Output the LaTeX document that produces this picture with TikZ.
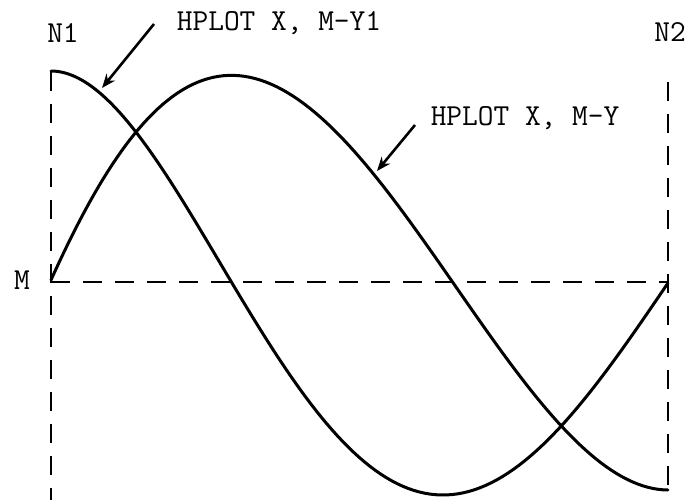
\documentclass[tikz,border=0pt]{standalone}
\usepackage{fontspec}
\usetikzlibrary{arrows.meta}
\begin{document}
\begin{tikzpicture}[x=1pt,y=-1pt,
  curve/.style={line width=3pt, line cap=round, line join=round},
  guide/.style={line width=2.6pt, dash pattern=on 19pt off 13pt},
  pointer/.style={line width=2.6pt, -{Stealth[length=14pt,width=11pt]}},
  lbl/.style={font=\ttfamily\addfontfeature{FakeBold=1.2}\fontsize{30.5}{32}\selectfont, inner sep=0pt}]
\useasboundingbox (0,0) rectangle (689,501);
% labels
\node[lbl] (n1) at (63,33) {N1};
\node[lbl] (n2) at (670,32) {N2};
\node[lbl] (m) at (22,280) {M};
\node[lbl] (ly1) at (279,23) {HPLOT X, M-Y1};
\node[lbl] (ly) at (525,118) {HPLOT X, M-Y};
% guide coordinates
\coordinate (lt) at (51,72);
\coordinate (lb) at (51,500);
\coordinate (rt) at (668,82);
\coordinate (rb) at (668,497);
\coordinate (ml) at (51,282);
\coordinate (mr) at (668,282);
\draw[guide] (lt) -- (lb);
\draw[guide] (rt) -- (rb);
\draw[guide] (ml) -- (mr);
% curves
\draw[curve] plot[variable=\u, domain=0:3, samples=120]
  ({51+181*\u+15*\u*(\u-1)-(8/3)*\u*(\u-1)*(\u-2)},{283-212*cos(90*\u)});
\draw[curve] plot[variable=\u, domain=0:3, samples=120]
  ({51+181*\u+20*\u*(\u-1)-(23/3)*\u*(\u-1)*(\u-2)},{280-206*sin(90*\u)+4*\u/3});
% pointers
\coordinate (p1s) at (154,24);
\coordinate (p1t) at (102,88);
\coordinate (p2s) at (415,125);
\coordinate (p2t) at (377,171);
\draw[pointer] (p1s) -- (p1t);
\draw[pointer] (p2s) -- (p2t);
\end{tikzpicture}
\end{document}
